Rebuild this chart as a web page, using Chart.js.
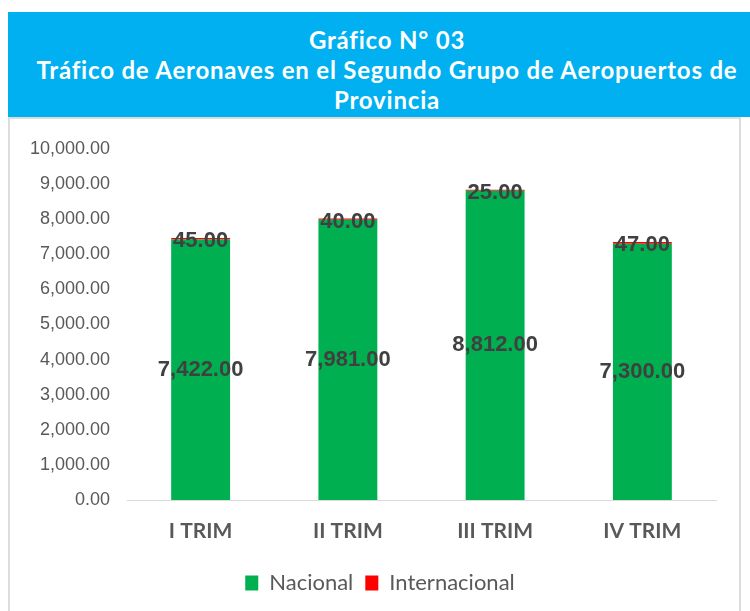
<!DOCTYPE html>
<html>
<head>
<meta charset="utf-8">
<script src="https://cdn.jsdelivr.net/npm/chart.js"></script>
<style>
  body { margin: 0; background: #fff; }
  #header {
    position: absolute; left: 8px; top: 12px; width: 742px; height: 105px;
    background: #00b0f0; color: #fff;
    font-family: Lato, sans-serif; font-weight: bold; font-size: 24px; letter-spacing: 0.8px;
    line-height: 30px; text-align: center; padding-top: 13px; padding-left: 16px; box-sizing: border-box;
    white-space: nowrap;
  }
  #box {
    position: absolute; left: 8px; top: 117px; width: 733px; height: 500px;
    border: 2px solid #dcdcdc; box-sizing: border-box;
  }
  #wrap { position: absolute; left: 0; top: 0; width: 750px; height: 611px; }
</style>
</head>
<body>
<div id="header">Gráfico N° 03<br>Tráfico de Aeronaves en el Segundo Grupo de Aeropuertos de<br>Provincia</div>
<div id="box"></div>
<div id="wrap"><canvas id="myChart" width="750" height="611"></canvas></div>
<script>
const categories = ['I TRIM', 'II TRIM', 'III TRIM', 'IV TRIM'];
const nacional = [7422, 7981, 8812, 7300];
const internacional = [45, 40, 25, 47];
const yTicks = [0, 1000, 2000, 3000, 4000, 5000, 6000, 7000, 8000, 9000, 10000];

function fmt(v) {
    return v.toLocaleString('en-US', { minimumFractionDigits: 2, maximumFractionDigits: 2 });
}

// draw the value labels on the bars
const barLabels = {
    id: 'barLabels',
    afterDatasetsDraw(chart) {
        const ctx = chart.ctx;
        ctx.save();
        ctx.font = 'bold 22px "Liberation Sans", Arial, sans-serif';
        ctx.fillStyle = '#404040';
        ctx.textAlign = 'center';
        ctx.textBaseline = 'middle';
        chart.data.datasets.forEach((ds, i) => {
            const meta = chart.getDatasetMeta(i);
            meta.data.forEach((bar, j) => {
                let y;
                if (i == 0) y = (bar.y + bar.base) / 2;
                else y = bar.y + 3;
                ctx.fillText(fmt(ds.data[j]), bar.x, y);
            });
        });
        ctx.restore();
    }
};

// legend sits a bit right of the plot centre in the original
const shiftLegend = {
    id: 'shiftLegend',
    afterLayout(chart) {
        chart.legend.left += 22;
        chart.legend.right += 22;
    }
};

let ctx = document.querySelector('#myChart').getContext('2d');
const myChart = new Chart(ctx, {
    type: 'bar',
    plugins: [barLabels, shiftLegend],
    data: {
        labels: categories,
        datasets: [{
            label: 'Nacional',
            data: nacional,
            backgroundColor: '#00b050',
            barPercentage: 0.4,
            categoryPercentage: 1
        }, {
            label: 'Internacional',
            data: internacional,
            backgroundColor: '#ff0000',
            barPercentage: 0.4,
            categoryPercentage: 1
        }]
    },
    options: {
        responsive: false,
        animation: false,
        layout: {
            padding: { top: 149, right: 34, bottom: 7, left: 0 }
        },
        scales: {
            x: {
                stacked: true,
                grid: { display: false, drawTicks: false },
                border: { display: true, color: '#d9d9d9', width: 1 },
                ticks: {
                    padding: 19,
                    color: '#595959',
                    font: { family: 'Lato', weight: 'bold', size: 21 }
                },
                afterFit: (scale) => { scale.height = 60; }
            },
            y: {
                stacked: true,
                min: 0,
                max: 10000,
                grid: { display: false, drawTicks: false },
                border: { display: false },
                afterBuildTicks: (scale) => { scale.ticks = yTicks.map(v => ({ value: v })); },
                ticks: {
                    padding: 17,
                    color: '#595959',
                    font: { family: 'Liberation Sans', size: 18 },
                    callback: (v) => fmt(v)
                },
                afterFit: (scale) => { scale.width = 127; }
            }
        },
        plugins: {
            legend: {
                position: 'bottom',
                labels: {
                    boxWidth: 13,
                    boxHeight: 15,
                    padding: 12,
                    color: '#595959',
                    font: { family: 'Lato', size: 22 }
                }
            },
            tooltip: { enabled: false }
        }
    }
});
</script>
</body>
</html>
